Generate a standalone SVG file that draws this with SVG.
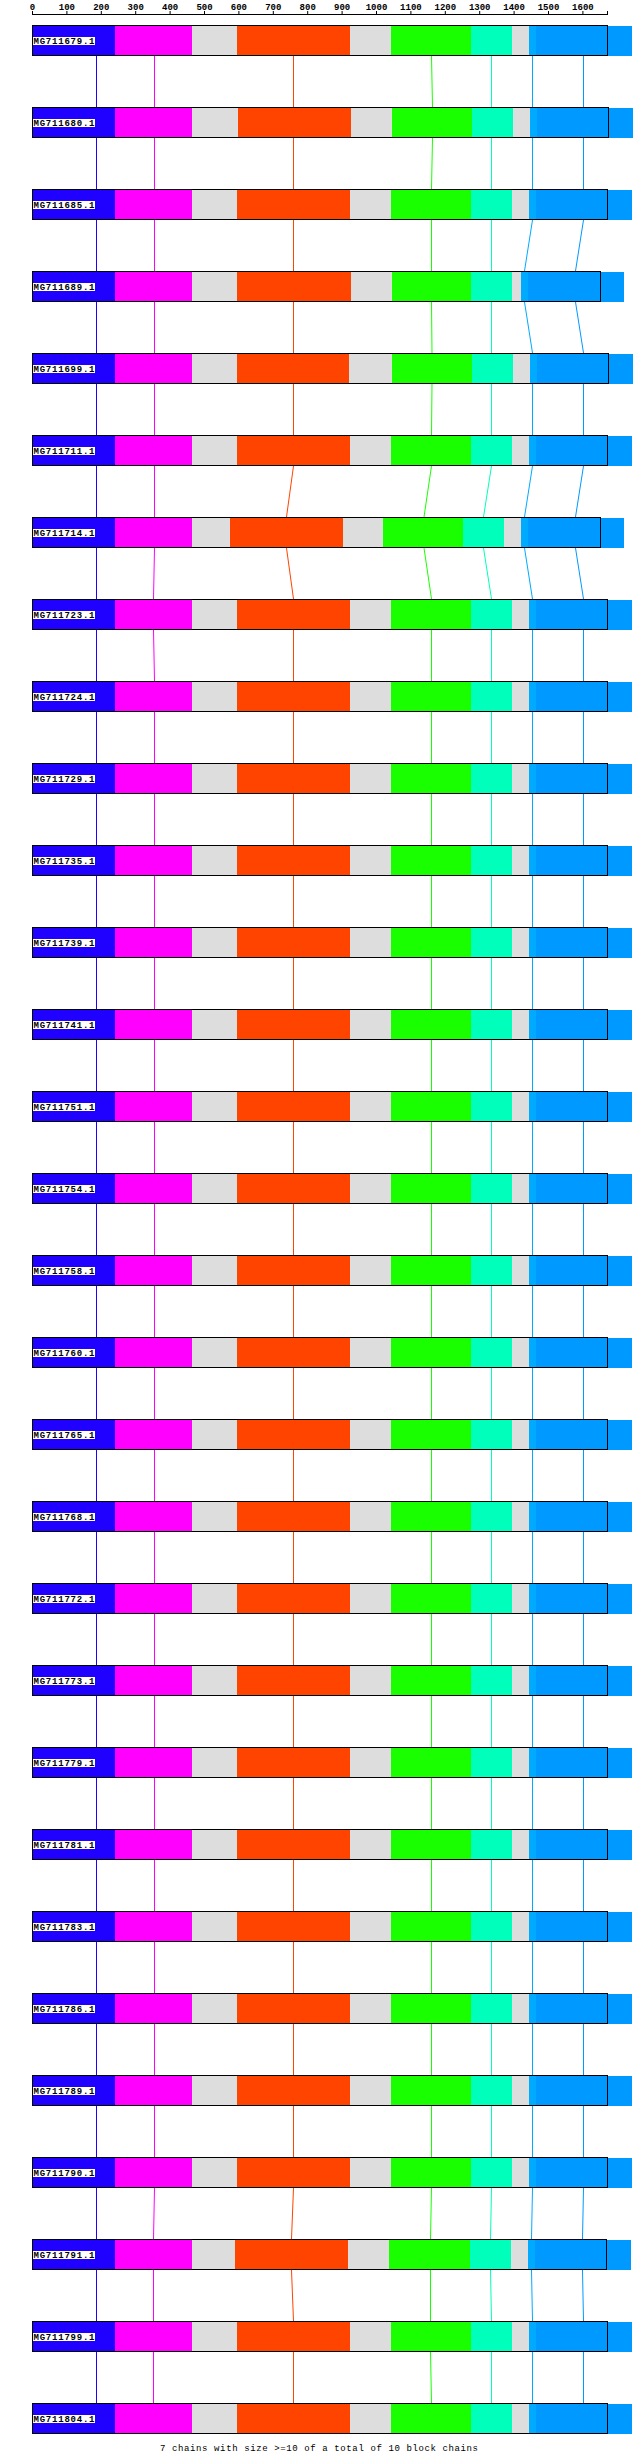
<svg xmlns="http://www.w3.org/2000/svg" xmlns:xlink="http://www.w3.org/1999/xlink" width="640" height="2460" viewBox="0 0 640 2460">
<style>
.b{fill:#2000ff}.m{fill:#ff00ff}.g{fill:#dddddd}.o{fill:#ff4400}.gr{fill:#1aff00}.t{fill:#00ffbb}.lb{fill:#00aaff}.bl{fill:#0099ff}
.ol{fill:none;stroke:#000;stroke-width:1}
.lblbg{fill:#fff}
.lbl{font-family:"Liberation Mono","DejaVu Sans Mono",monospace;font-size:9px;font-weight:bold;fill:#000}
.ax{font-family:"Liberation Mono","DejaVu Sans Mono",monospace;font-size:9px;font-weight:bold;fill:#000;text-anchor:middle}
.c{fill:none;stroke-width:1}
</style>
<defs>
<g id="barA">
<rect class="b" x="32" y="1" width="83" height="30"/><rect class="m" x="115" y="1" width="77" height="30"/><rect class="g" x="192" y="1" width="45" height="30"/><rect class="o" x="237" y="1" width="113" height="30"/><rect class="g" x="350" y="1" width="41" height="30"/><rect class="gr" x="391" y="1" width="80" height="30"/><rect class="t" x="471" y="1" width="41" height="30"/><rect class="g" x="512" y="1" width="17" height="30"/><rect class="lb" x="529" y="1" width="7" height="30"/><rect class="bl" x="536" y="1" width="96" height="30"/><rect class="ol" x="32.5" y="0.5" width="575" height="30"/>
</g>
<g id="barB">
<rect class="b" x="32" y="1" width="83" height="30"/><rect class="m" x="115" y="1" width="77" height="30"/><rect class="g" x="192" y="1" width="46" height="30"/><rect class="o" x="238" y="1" width="113" height="30"/><rect class="g" x="351" y="1" width="41" height="30"/><rect class="gr" x="392" y="1" width="80" height="30"/><rect class="t" x="472" y="1" width="41" height="30"/><rect class="g" x="513" y="1" width="17" height="30"/><rect class="lb" x="530" y="1" width="7" height="30"/><rect class="bl" x="537" y="1" width="96" height="30"/><rect class="ol" x="32.5" y="0.5" width="576" height="30"/>
</g>
<g id="barF">
<rect class="b" x="32" y="1" width="83" height="30"/><rect class="m" x="115" y="1" width="77" height="30"/><rect class="g" x="192" y="1" width="45" height="30"/><rect class="o" x="237" y="1" width="112" height="30"/><rect class="g" x="349" y="1" width="43" height="30"/><rect class="gr" x="392" y="1" width="80" height="30"/><rect class="t" x="472" y="1" width="41" height="30"/><rect class="g" x="513" y="1" width="17" height="30"/><rect class="lb" x="530" y="1" width="7" height="30"/><rect class="bl" x="537" y="1" width="96" height="30"/><rect class="ol" x="32.5" y="0.5" width="576" height="30"/>
</g>
<g id="barC">
<rect class="b" x="32" y="1" width="83" height="30"/><rect class="m" x="115" y="1" width="77" height="30"/><rect class="g" x="192" y="1" width="45" height="30"/><rect class="o" x="237" y="1" width="114" height="30"/><rect class="g" x="351" y="1" width="41" height="30"/><rect class="gr" x="392" y="1" width="79" height="30"/><rect class="t" x="471" y="1" width="41" height="30"/><rect class="g" x="512" y="1" width="9" height="30"/><rect class="lb" x="521" y="1" width="7" height="30"/><rect class="bl" x="528" y="1" width="96" height="30"/><rect class="ol" x="32.5" y="0.5" width="568" height="30"/>
</g>
<g id="barD">
<rect class="b" x="32" y="1" width="83" height="30"/><rect class="m" x="115" y="1" width="77" height="30"/><rect class="g" x="192" y="1" width="38" height="30"/><rect class="o" x="230" y="1" width="113" height="30"/><rect class="g" x="343" y="1" width="40" height="30"/><rect class="gr" x="383" y="1" width="80" height="30"/><rect class="t" x="463" y="1" width="41" height="30"/><rect class="g" x="504" y="1" width="17" height="30"/><rect class="lb" x="521" y="1" width="7" height="30"/><rect class="bl" x="528" y="1" width="96" height="30"/><rect class="ol" x="32.5" y="0.5" width="568" height="30"/>
</g>
<g id="barE">
<rect class="b" x="32" y="1" width="83" height="30"/><rect class="m" x="115" y="1" width="77" height="30"/><rect class="g" x="192" y="1" width="43" height="30"/><rect class="o" x="235" y="1" width="113" height="30"/><rect class="g" x="348" y="1" width="41" height="30"/><rect class="gr" x="389" y="1" width="81" height="30"/><rect class="t" x="470" y="1" width="41" height="30"/><rect class="g" x="511" y="1" width="17" height="30"/><rect class="lb" x="528" y="1" width="7" height="30"/><rect class="bl" x="535" y="1" width="96" height="30"/><rect class="ol" x="32.5" y="0.5" width="574" height="30"/>
</g>
<rect id="lbg" class="lblbg" x="33" y="12" width="62" height="8"/>
</defs>

<g id="axis">
<path d="M32 14.5H608M32.5 11V15M66.9 11V15M101.3 11V15M135.7 11V15M170.1 11V15M204.5 11V15M238.9 11V15M273.3 11V15M307.7 11V15M342.1 11V15M376.5 11V15M410.9 11V15M445.3 11V15M479.7 11V15M514.1 11V15M548.5 11V15M582.9 11V15M607.5 11V15" stroke="#000" stroke-width="1" fill="none"/>
<text class="ax" x="32.5" y="10">0</text><text class="ax" x="66.9" y="10">100</text><text class="ax" x="101.3" y="10">200</text><text class="ax" x="135.7" y="10">300</text><text class="ax" x="170.1" y="10">400</text><text class="ax" x="204.5" y="10">500</text><text class="ax" x="238.9" y="10">600</text><text class="ax" x="273.3" y="10">700</text><text class="ax" x="307.7" y="10">800</text><text class="ax" x="342.1" y="10">900</text><text class="ax" x="376.5" y="10">1000</text><text class="ax" x="410.9" y="10">1100</text><text class="ax" x="445.3" y="10">1200</text><text class="ax" x="479.7" y="10">1300</text><text class="ax" x="514.1" y="10">1400</text><text class="ax" x="548.5" y="10">1500</text><text class="ax" x="582.9" y="10">1600</text>
</g>

<g id="connectors">
<path class="c" stroke="#2000ff" d="M96.5 56V107M96.5 138V189M96.5 220V271M96.5 302V353M96.5 384V435M96.5 466V517M96.5 548V599M96.5 630V681M96.5 712V763M96.5 794V845M96.5 876V927M96.5 958V1009M96.5 1040V1091M96.5 1122V1173M96.5 1204V1255M96.5 1286V1337M96.5 1368V1419M96.5 1450V1501M96.5 1532V1583M96.5 1614V1665M96.5 1696V1747M96.5 1778V1829M96.5 1860V1911M96.5 1942V1993M96.5 2024V2075M96.5 2106V2157M96.5 2188V2239M96.5 2270V2321M96.5 2352V2403"/>
<path class="c" stroke="#ff00ff" d="M154.5 56V107M154.5 138V189M154.5 220V271M154.5 302V353M154.5 384V435M154.5 466V517M154.5 548L153.5 599M153.5 630L154.5 681M154.5 712V763M154.5 794V845M154.5 876V927M154.5 958V1009M154.5 1040V1091M154.5 1122V1173M154.5 1204V1255M154.5 1286V1337M154.5 1368V1419M154.5 1450V1501M154.5 1532V1583M154.5 1614V1665M154.5 1696V1747M154.5 1778V1829M154.5 1860V1911M154.5 1942V1993M154.5 2024V2075M154.5 2106V2157M154.5 2188L153.5 2239M153.5 2270V2321M153.5 2352V2403"/>
<path class="c" stroke="#ff4400" d="M293.5 56V107M293.5 138V189M293.5 220V271M293.5 302V353M293.5 384V435M293.5 466L286.5 517M286.5 548L293.5 599M293.5 630V681M293.5 712V763M293.5 794V845M293.5 876V927M293.5 958V1009M293.5 1040V1091M293.5 1122V1173M293.5 1204V1255M293.5 1286V1337M293.5 1368V1419M293.5 1450V1501M293.5 1532V1583M293.5 1614V1665M293.5 1696V1747M293.5 1778V1829M293.5 1860V1911M293.5 1942V1993M293.5 2024V2075M293.5 2106V2157M293.5 2188L291.5 2239M291.5 2270L293.5 2321M293.5 2352V2403"/>
<path class="c" stroke="#1aff00" d="M431.5 56L432.5 107M432.5 138L431.5 189M431.5 220V271M431.5 302L432 353M432 384L431.5 435M431.5 466L424 517M424 548L431.5 599M431.5 630V681M431.5 712V763M431.5 794V845M431.5 876V927M431.5 958V1009M431.5 1040V1091M431.5 1122V1173M431.5 1204V1255M431.5 1286V1337M431.5 1368V1419M431.5 1450V1501M431.5 1532V1583M431.5 1614V1665M431.5 1696V1747M431.5 1778V1829M431.5 1860V1911M431.5 1942V1993M431.5 2024V2075M431.5 2106V2157M431.5 2188L430.5 2239M430.5 2270V2321M430.5 2352L431.5 2403"/>
<path class="c" stroke="#00ffbb" d="M491.5 56V107M491.5 138V189M491.5 220V271M491.5 302V353M491.5 384V435M491.5 466L483.5 517M483.5 548L491.5 599M491.5 630V681M491.5 712V763M491.5 794V845M491.5 876V927M491.5 958V1009M491.5 1040V1091M491.5 1122V1173M491.5 1204V1255M491.5 1286V1337M491.5 1368V1419M491.5 1450V1501M491.5 1532V1583M491.5 1614V1665M491.5 1696V1747M491.5 1778V1829M491.5 1860V1911M491.5 1942V1993M491.5 2024V2075M491.5 2106V2157M491.5 2188L490.5 2239M490.5 2270L491.5 2321M491.5 2352V2403"/>
<path class="c" stroke="#00aaff" d="M532.5 56V107M532.5 138V189M532.5 220L524.5 271M524.5 302L532.5 353M532.5 384V435M532.5 466L524.5 517M524.5 548L532.5 599M532.5 630V681M532.5 712V763M532.5 794V845M532.5 876V927M532.5 958V1009M532.5 1040V1091M532.5 1122V1173M532.5 1204V1255M532.5 1286V1337M532.5 1368V1419M532.5 1450V1501M532.5 1532V1583M532.5 1614V1665M532.5 1696V1747M532.5 1778V1829M532.5 1860V1911M532.5 1942V1993M532.5 2024V2075M532.5 2106V2157M532.5 2188L531.5 2239M531.5 2270L532.5 2321M532.5 2352V2403"/>
<path class="c" stroke="#0099ff" d="M583.5 56V107M583.5 138V189M583.5 220L575.5 271M575.5 302L583.5 353M583.5 384V435M583.5 466L575.5 517M575.5 548L583.5 599M583.5 630V681M583.5 712V763M583.5 794V845M583.5 876V927M583.5 958V1009M583.5 1040V1091M583.5 1122V1173M583.5 1204V1255M583.5 1286V1337M583.5 1368V1419M583.5 1450V1501M583.5 1532V1583M583.5 1614V1665M583.5 1696V1747M583.5 1778V1829M583.5 1860V1911M583.5 1942V1993M583.5 2024V2075M583.5 2106V2157M583.5 2188L582.5 2239M582.5 2270L583.5 2321M583.5 2352V2403"/>
</g>

<g id="row01" transform="translate(0,25)"><use xlink:href="#barA"/><use xlink:href="#lbg"/><text class="lbl" x="33.5" y="19" textLength="61">MG711679.1</text></g>
<g id="row02" transform="translate(0,107)"><use xlink:href="#barB"/><use xlink:href="#lbg"/><text class="lbl" x="33.5" y="19" textLength="61">MG711680.1</text></g>
<g id="row03" transform="translate(0,189)"><use xlink:href="#barA"/><use xlink:href="#lbg"/><text class="lbl" x="33.5" y="19" textLength="61">MG711685.1</text></g>
<g id="row04" transform="translate(0,271)"><use xlink:href="#barC"/><use xlink:href="#lbg"/><text class="lbl" x="33.5" y="19" textLength="61">MG711689.1</text></g>
<g id="row05" transform="translate(0,353)"><use xlink:href="#barF"/><use xlink:href="#lbg"/><text class="lbl" x="33.5" y="19" textLength="61">MG711699.1</text></g>
<g id="row06" transform="translate(0,435)"><use xlink:href="#barA"/><use xlink:href="#lbg"/><text class="lbl" x="33.5" y="19" textLength="61">MG711711.1</text></g>
<g id="row07" transform="translate(0,517)"><use xlink:href="#barD"/><use xlink:href="#lbg"/><text class="lbl" x="33.5" y="19" textLength="61">MG711714.1</text></g>
<g id="row08" transform="translate(0,599)"><use xlink:href="#barA"/><use xlink:href="#lbg"/><text class="lbl" x="33.5" y="19" textLength="61">MG711723.1</text></g>
<g id="row09" transform="translate(0,681)"><use xlink:href="#barA"/><use xlink:href="#lbg"/><text class="lbl" x="33.5" y="19" textLength="61">MG711724.1</text></g>
<g id="row10" transform="translate(0,763)"><use xlink:href="#barA"/><use xlink:href="#lbg"/><text class="lbl" x="33.5" y="19" textLength="61">MG711729.1</text></g>
<g id="row11" transform="translate(0,845)"><use xlink:href="#barA"/><use xlink:href="#lbg"/><text class="lbl" x="33.5" y="19" textLength="61">MG711735.1</text></g>
<g id="row12" transform="translate(0,927)"><use xlink:href="#barA"/><use xlink:href="#lbg"/><text class="lbl" x="33.5" y="19" textLength="61">MG711739.1</text></g>
<g id="row13" transform="translate(0,1009)"><use xlink:href="#barA"/><use xlink:href="#lbg"/><text class="lbl" x="33.5" y="19" textLength="61">MG711741.1</text></g>
<g id="row14" transform="translate(0,1091)"><use xlink:href="#barA"/><use xlink:href="#lbg"/><text class="lbl" x="33.5" y="19" textLength="61">MG711751.1</text></g>
<g id="row15" transform="translate(0,1173)"><use xlink:href="#barA"/><use xlink:href="#lbg"/><text class="lbl" x="33.5" y="19" textLength="61">MG711754.1</text></g>
<g id="row16" transform="translate(0,1255)"><use xlink:href="#barA"/><use xlink:href="#lbg"/><text class="lbl" x="33.5" y="19" textLength="61">MG711758.1</text></g>
<g id="row17" transform="translate(0,1337)"><use xlink:href="#barA"/><use xlink:href="#lbg"/><text class="lbl" x="33.5" y="19" textLength="61">MG711760.1</text></g>
<g id="row18" transform="translate(0,1419)"><use xlink:href="#barA"/><use xlink:href="#lbg"/><text class="lbl" x="33.5" y="19" textLength="61">MG711765.1</text></g>
<g id="row19" transform="translate(0,1501)"><use xlink:href="#barA"/><use xlink:href="#lbg"/><text class="lbl" x="33.5" y="19" textLength="61">MG711768.1</text></g>
<g id="row20" transform="translate(0,1583)"><use xlink:href="#barA"/><use xlink:href="#lbg"/><text class="lbl" x="33.5" y="19" textLength="61">MG711772.1</text></g>
<g id="row21" transform="translate(0,1665)"><use xlink:href="#barA"/><use xlink:href="#lbg"/><text class="lbl" x="33.5" y="19" textLength="61">MG711773.1</text></g>
<g id="row22" transform="translate(0,1747)"><use xlink:href="#barA"/><use xlink:href="#lbg"/><text class="lbl" x="33.5" y="19" textLength="61">MG711779.1</text></g>
<g id="row23" transform="translate(0,1829)"><use xlink:href="#barA"/><use xlink:href="#lbg"/><text class="lbl" x="33.5" y="19" textLength="61">MG711781.1</text></g>
<g id="row24" transform="translate(0,1911)"><use xlink:href="#barA"/><use xlink:href="#lbg"/><text class="lbl" x="33.5" y="19" textLength="61">MG711783.1</text></g>
<g id="row25" transform="translate(0,1993)"><use xlink:href="#barA"/><use xlink:href="#lbg"/><text class="lbl" x="33.5" y="19" textLength="61">MG711786.1</text></g>
<g id="row26" transform="translate(0,2075)"><use xlink:href="#barA"/><use xlink:href="#lbg"/><text class="lbl" x="33.5" y="19" textLength="61">MG711789.1</text></g>
<g id="row27" transform="translate(0,2157)"><use xlink:href="#barA"/><use xlink:href="#lbg"/><text class="lbl" x="33.5" y="19" textLength="61">MG711790.1</text></g>
<g id="row28" transform="translate(0,2239)"><use xlink:href="#barE"/><use xlink:href="#lbg"/><text class="lbl" x="33.5" y="19" textLength="61">MG711791.1</text></g>
<g id="row29" transform="translate(0,2321)"><use xlink:href="#barA"/><use xlink:href="#lbg"/><text class="lbl" x="33.5" y="19" textLength="61">MG711799.1</text></g>
<g id="row30" transform="translate(0,2403)"><use xlink:href="#barA"/><use xlink:href="#lbg"/><text class="lbl" x="33.5" y="19" textLength="61">MG711804.1</text></g>

<text id="footer" x="319" y="2451" font-family="Liberation Mono, DejaVu Sans Mono, monospace" font-size="9" text-anchor="middle" textLength="318" lengthAdjust="spacing">7 chains with size &gt;=10 of a total of 10 block chains</text>
</svg>
